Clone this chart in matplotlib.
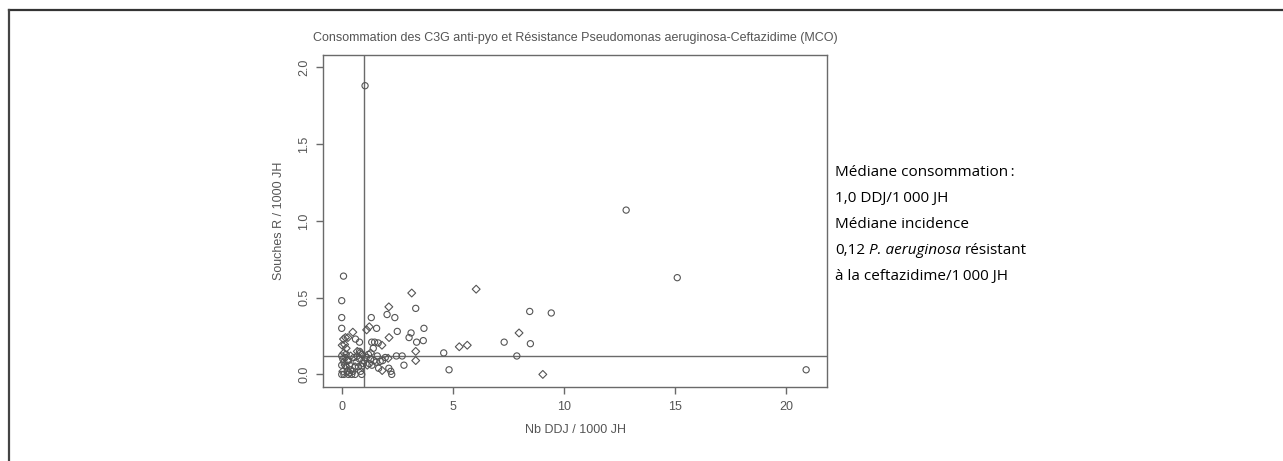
import matplotlib
matplotlib.use("Agg")
import matplotlib.pyplot as plt
from matplotlib.lines import Line2D

plt.rcParams["font.family"] = ["Liberation Sans", "DejaVu Sans"]

# Consumption (DDJ / 1000 JH) vs resistant strains (/ 1000 JH), one point per hospital
circle_x = [1.05, 12.8, 15.1, 20.9,
            8.46, 9.43, 7.31, 8.49, 7.88, 4.59, 4.83,
            3.33, 3.70, 3.12, 3.03, 3.37, 3.67, 2.80, 2.72, 2.46,
            2.04, 2.39, 2.50, 1.96, 1.84, 1.73, 1.66, 2.12, 2.21, 2.25,
            1.33, 1.57, 1.35, 1.48, 1.64, 1.42, 1.24, 1.36,
            0.08, 0.00, 0.00, 0.00,
            0.62, 0.80, 0.80, 0.84,
            0.00, 0.05, 0.10, 0.00, 0.15, 0.20, 0.25, 0.30, 0.35, 0.40,
            0.45, 0.10, 0.00, 0.20, 0.30, 0.35, 0.50, 0.55, 0.65, 0.70,
            0.75, 0.80, 0.90, 0.95, 1.00, 0.85, 0.90, 1.10, 1.20, 1.30,
            1.45, 1.55, 1.60, 0.60]
circle_y = [1.88, 1.07, 0.63, 0.03,
            0.41, 0.40, 0.21, 0.20, 0.12, 0.14, 0.03,
            0.43, 0.30, 0.27, 0.24, 0.21, 0.22, 0.06, 0.12, 0.12,
            0.39, 0.37, 0.28, 0.11, 0.09, 0.085, 0.04, 0.04, 0.02, 0.00,
            0.37, 0.30, 0.21, 0.21, 0.205, 0.17, 0.07, 0.06,
            0.64, 0.48, 0.37, 0.30,
            0.23, 0.21, 0.15, 0.14,
            0.12, 0.10, 0.08, 0.06, 0.11, 0.05, 0.02, 0.00, 0.01, 0.03,
            0.00, 0.00, 0.00, 0.13, 0.09, 0.06, 0.02, 0.11, 0.08, 0.12,
            0.05, 0.10, 0.13, 0.07, 0.09, 0.02, 0.00, 0.11, 0.13, 0.10,
            0.09, 0.08, 0.12, 0.00]

diamond_x = [3.15, 6.05, 3.33, 3.33, 5.29, 5.65, 7.98, 9.05,
             2.12, 2.13, 1.81, 2.09, 1.82,
             1.12, 1.24, 0.50, 0.28, 0.17, 0.08, 0.02, 0.20, 0.13,
             0.10, 0.15, 0.25, 0.40, 0.60, 0.70, 0.90, 1.15, 1.30, 0.05]
diamond_y = [0.53, 0.555, 0.15, 0.09, 0.18, 0.19, 0.27, 0.00,
             0.44, 0.24, 0.19, 0.105, 0.025,
             0.29, 0.31, 0.275, 0.24, 0.24, 0.23, 0.19, 0.17, 0.195,
             0.14, 0.06, 0.09, 0.12, 0.05, 0.15, 0.05, 0.06, 0.14, 0.02]

median_conso = 1.0
median_incid = 0.12

x_ticks = [0, 5, 10, 15, 20]
y_ticks = [0.0, 0.5, 1.0, 1.5, 2.0]

title = "Consommation des C3G anti-pyo et Résistance Pseudomonas aeruginosa-Ceftazidime (MCO)"
x_label = "Nb DDJ / 1000 JH"
y_label = "Souches R / 1000 JH"

grey = "#555555"
line_grey = "#6a6a6a"

fig = plt.figure(figsize=(12.83, 4.61), dpi=100)
ax = fig.add_axes([0.2518, 0.1612, 0.3928, 0.7195])

ax.scatter(circle_x, circle_y, s=20, marker="o", facecolors="none",
           edgecolors=grey, linewidths=0.8, zorder=3)
ax.scatter(diamond_x, diamond_y, s=16, marker="D", facecolors="none",
           edgecolors=grey, linewidths=0.8, zorder=3)

ax.axvline(median_conso, color=line_grey, lw=1.0, zorder=2)
ax.axhline(median_incid, color=line_grey, lw=1.0, zorder=2)

ax.set_xlim(-0.84, 21.84)
ax.set_ylim(-0.08, 2.08)
ax.set_xticks(x_ticks)
ax.set_xticklabels([str(v) for v in x_ticks])
ax.set_yticks(y_ticks)
ax.set_yticklabels([f"{v:.1f}" for v in y_ticks], rotation=90, va="center")

for s in ax.spines.values():
    s.set_color(line_grey)
    s.set_linewidth(1.0)
ax.tick_params(axis="both", colors=line_grey, labelcolor=grey, labelsize=9,
               length=5, width=1.0, pad=5)
ax.tick_params(axis="y", pad=4)

ax.set_title(title, fontsize=9, color=grey, pad=10)
ax.set_xlabel(x_label, fontsize=9, color=grey, labelpad=8)
ax.set_ylabel(y_label, fontsize=9, color=grey, labelpad=10)

# Median annotations on the right
side_font = dict(fontsize=11, family=["Open Sans", "DejaVu Sans"],
                 color="#000000", va="center")
space_pt = 2.9
x_text = 835 / 1283
y0 = 461 - 172
step = 26

fig.text(x_text, y0 / 461, "Médiane consommation\u2009:", ha="left", **side_font)
fig.text(x_text, (y0 - step) / 461, "1,0 DDJ/1\u2009000 JH", ha="left", **side_font)
fig.text(x_text, (y0 - 2 * step) / 461, "Médiane incidence", ha="left", **side_font)
t_val = fig.text(x_text, (y0 - 3 * step) / 461, "0,12", ha="left", **side_font)
t_it = ax.annotate("P. aeruginosa", xy=(1, 0.5), xycoords=t_val,
                   xytext=(space_pt, 0), textcoords="offset points",
                   ha="left", style="italic", annotation_clip=False,
                   **side_font)
ax.annotate("résistant", xy=(1, 0.5), xycoords=t_it,
            xytext=(space_pt, 0), textcoords="offset points",
            ha="left", annotation_clip=False, **side_font)
fig.text(x_text, (y0 - 4 * step) / 461, "à la ceftazidime/1\u2009000 JH",
         ha="left", **side_font)

# Frame around the figure (top and left edges)
fig.add_artist(Line2D([9 / 1283, 1.0], [1 - 10 / 461, 1 - 10 / 461],
                      transform=fig.transFigure, color="#333333", lw=1.6))
fig.add_artist(Line2D([9 / 1283, 9 / 1283], [0.0, 1 - 10 / 461],
                      transform=fig.transFigure, color="#444444", lw=1.6))

fig.savefig("out.png", dpi=100)
